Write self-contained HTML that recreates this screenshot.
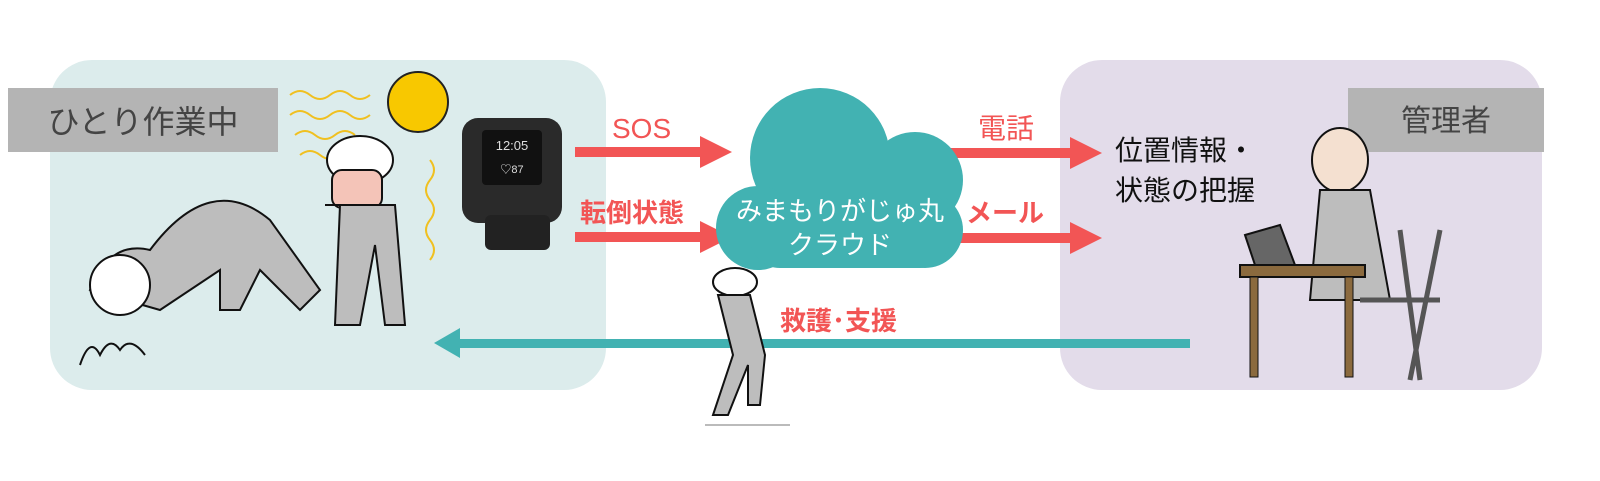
<!DOCTYPE html>
<html><head><meta charset="utf-8"><style>
body{margin:0;background:#fff;}
svg text{font-family:"Liberation Sans","Noto Sans CJK JP",sans-serif;}
</style></head><body>
<svg width="1600" height="476" viewBox="0 0 1600 476" xmlns="http://www.w3.org/2000/svg">
<rect x="50" y="60" width="556" height="330" rx="42" fill="#dcecec"/>
<rect x="1060" y="60" width="482" height="330" rx="42" fill="#e3dcea"/>
<rect x="8" y="88" width="270" height="64" fill="#b4b4b4"/>
<text x="143" y="133" font-size="32" fill="#444" text-anchor="middle">ひとり作業中</text>
<rect x="1348" y="88" width="196" height="64" fill="#b4b4b4"/>
<text x="1446" y="131" font-size="30" fill="#444" text-anchor="middle">管理者</text>
<!-- sun & heat -->
<circle cx="418" cy="102" r="30" fill="#f8c800" stroke="#222" stroke-width="2"/>
<g stroke="#f0c020" stroke-width="2" fill="none">
<path d="M290 95 q10-8 20 0 t20 0 t20 0 t20 0"/><path d="M290 115 q10-8 20 0 t20 0 t20 0 t20 0"/>
<path d="M295 135 q10-8 20 0 t20 0 t20 0"/><path d="M300 155 q10-8 20 0 t20 0"/>
<path d="M430 160 q8 10 0 20 t0 20 t0 20 t0 20 t0 20"/>
</g>
<!-- standing worker -->
<ellipse cx="360" cy="160" rx="33" ry="24" fill="#fff" stroke="#111" stroke-width="2"/>
<rect x="332" y="170" width="50" height="38" rx="10" fill="#f4c4b8" stroke="#111" stroke-width="2"/>
<path d="M325 205 h70 l10 120 h-20 l-10-80 -15 80 h-25 l5-120z" fill="#bdbdbd" stroke="#111" stroke-width="2"/>
<!-- lying worker -->
<path d="M90 290 q20-50 60-40 q60-80 120-30 l50 70 -20 20 -40-40 -20 40 -20 0 0-40 -60 40z" fill="#bdbdbd" stroke="#111" stroke-width="2"/>
<ellipse cx="120" cy="285" rx="30" ry="30" fill="#fff" stroke="#111" stroke-width="2"/>
<path d="M80 365 q10-30 20-10 q10-20 20-5 q10-15 25 5" stroke="#111" stroke-width="2" fill="none"/>
<!-- watch -->
<rect x="462" y="118" width="100" height="105" rx="16" fill="#2a2a2a"/>
<rect x="485" y="215" width="65" height="35" rx="6" fill="#222"/>
<rect x="482" y="130" width="60" height="55" rx="4" fill="#111"/>
<text x="512" y="150" font-size="13" fill="#ddd" text-anchor="middle">12:05</text>
<text x="512" y="173" font-size="11" fill="#ddd" text-anchor="middle">♡87</text>
<!-- arrows -->
<g fill="#f25555">
<rect x="575" y="147" width="130" height="10"/><polygon points="700,136 732,152 700,168"/>
<rect x="575" y="232" width="130" height="10"/><polygon points="700,221 732,237 700,253"/>
<rect x="945" y="148" width="130" height="10"/><polygon points="1070,137 1102,153 1070,169"/>
<rect x="945" y="233" width="130" height="10"/><polygon points="1070,222 1102,238 1070,254"/>
</g>
<text x="612" y="138" font-size="28" fill="#f25555">SOS</text>
<text x="580" y="222" font-size="26" font-weight="bold" fill="#f25555">転倒状態</text>
<text x="978" y="138" font-size="28" fill="#f25555">電話</text>
<text x="966" y="222" font-size="26" font-weight="bold" fill="#f25555">メール</text>
<!-- cloud -->
<g fill="#42b2b2">
<circle cx="820" cy="158" r="70"/>
<circle cx="915" cy="180" r="48"/>
<circle cx="758" cy="228" r="42"/>
<circle cx="925" cy="230" r="38"/>
<rect x="750" y="190" width="200" height="78" rx="30"/>
</g>
<text x="840" y="220" font-size="26" fill="#fff" text-anchor="middle">みまもりがじゅ丸</text>
<text x="840" y="254" font-size="26" fill="#fff" text-anchor="middle">クラウド</text>
<!-- teal arrow -->
<rect x="455" y="339" width="735" height="9" fill="#42b2b2"/>
<polygon points="460,328 434,343 460,358" fill="#42b2b2"/>
<text x="780" y="330" font-size="26" font-weight="bold" fill="#f25555">救護･支援</text>
<!-- running worker -->
<ellipse cx="735" cy="282" rx="22" ry="14" fill="#fff" stroke="#111" stroke-width="2"/>
<path d="M720 295 h30 l15 60 -5 50 h-12 l0-40 -20 50 h-15 l20-60 -15-60z" fill="#bdbdbd" stroke="#111" stroke-width="2"/>
<line x1="705" y1="425" x2="790" y2="425" stroke="#bbb" stroke-width="2"/>
<!-- manager -->
<text x="1115" y="160" font-size="28" fill="#111">位置情報・</text>
<text x="1115" y="200" font-size="28" fill="#111">状態の把握</text>
<ellipse cx="1340" cy="160" rx="28" ry="32" fill="#f4e0d0" stroke="#111" stroke-width="2"/>
<path d="M1320 190 h50 l20 110 h-80z" fill="#bdbdbd" stroke="#111" stroke-width="2"/>
<rect x="1240" y="265" width="125" height="12" fill="#8b6a3e" stroke="#111" stroke-width="2"/>
<rect x="1250" y="277" width="8" height="100" fill="#8b6a3e" stroke="#111" stroke-width="1"/>
<rect x="1345" y="277" width="8" height="100" fill="#8b6a3e" stroke="#111" stroke-width="1"/>
<path d="M1245 235 l35-10 15 40 h-40z" fill="#666" stroke="#111" stroke-width="2"/>
<path d="M1400 230 l20 150 M1440 230 l-30 150 M1360 300 h80" stroke="#555" stroke-width="5" fill="none"/>
</svg>
</body></html>
